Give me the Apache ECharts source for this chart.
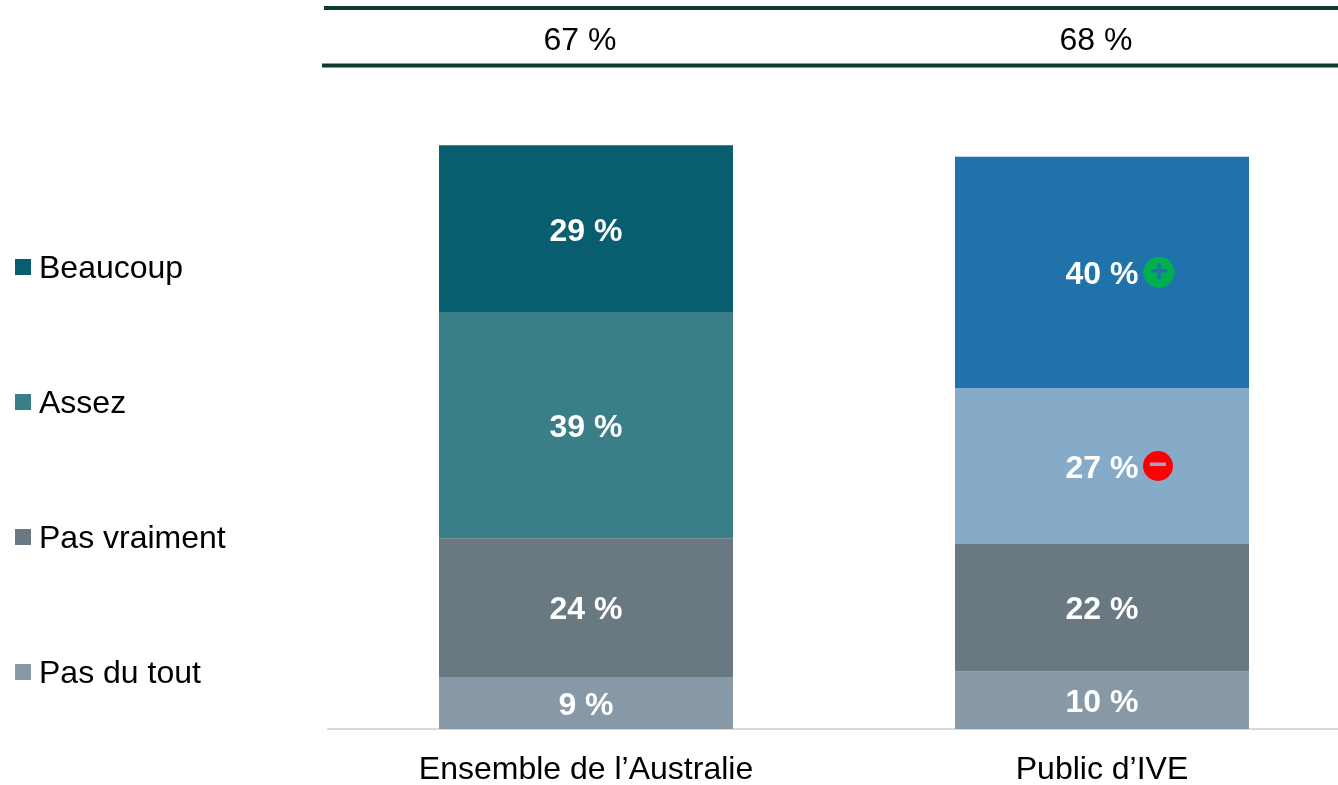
<!DOCTYPE html>
<html>
<head>
<meta charset="utf-8">
<script src="https://cdn.jsdelivr.net/npm/echarts@6/dist/echarts.min.js"></script>
<style>
  html, body { margin: 0; padding: 0; background: #fff; overflow: hidden; }
  #chart { width: 1338px; height: 785px; }
</style>
</head>
<body>
<div id="chart"></div>
<script>
const categories = ['Ensemble de l’Australie', 'Public d’IVE']
const totals = ['67 %', '68 %']
const legendNames = ['Beaucoup', 'Assez', 'Pas vraiment', 'Pas du tout']

const beaucoup = [29, 40]
const assez = [39, 27]
const pasVraiment = [24, 22]
const pasDuTout = [9, 10]

const FONT = '"Liberation Sans", Arial, sans-serif'
const RULE = '#0d3b2e'

const chart = echarts.init(document.getElementById('chart'))

const barSeries = (name, data, color, ivColor) => ({
  name,
  type: 'bar',
  stack: 'total',
  barWidth: 294,
  data: data.map((value, i) =>
    i === 1 && ivColor ? { value, itemStyle: { color: ivColor } } : value
  ),
  itemStyle: { color },
  label: {
    show: true,
    position: 'inside',
    offset: [0, 3],
    formatter: (p) => `${p.value} %`,
    color: '#fff',
    fontFamily: FONT,
    fontWeight: 'bold',
    fontSize: 32,
    textBorderWidth: 0,
  },
})

// middle of a segment in the second column, from the stacked values
const midOf = (below, own) => below.reduce((sum, arr) => sum + arr[1], 0) + own[1] / 2

const badge = (yValue, color, text, textColor, offsetX, size) => ({
  type: 'scatter',
  symbol: 'circle',
  symbolSize: size,
  symbolOffset: [offsetX, 0],
  silent: true,
  z: 5,
  itemStyle: { color, opacity: 1 },
  data: [[categories[1], yValue]],
  label: {
    show: true,
    position: 'inside',
    formatter: text,
    color: textColor,
    fontFamily: FONT,
    fontWeight: 'bold',
    fontSize: 32,
    textBorderWidth: 0,
  },
})

chart.setOption({
  animation: false,
  backgroundColor: '#fff',
  grid: { left: 328, top: 66, width: 1032, height: 663, outerBoundsMode: 'none' },
  legend: {
    orient: 'vertical',
    left: 10,
    top: 248,
    data: legendNames,
    icon: 'rect',
    itemWidth: 16,
    itemHeight: 16,
    itemGap: 103,
    formatter: '{n|{name}}',
    textStyle: {
      rich: {
        n: { fontFamily: FONT, fontSize: 32, color: '#000', padding: [4, 0, 0, 3] },
      },
    },
  },
  xAxis: [
    {
      type: 'category',
      data: categories,
      axisLine: { lineStyle: { color: '#d9d9d9', width: 2 } },
      axisTick: { show: false },
      axisLabel: { color: '#000', fontFamily: FONT, fontSize: 32, margin: 25 },
    },
    {
      type: 'category',
      position: 'top',
      data: totals,
      axisLine: { show: false },
      axisTick: { show: false },
      axisLabel: { color: '#000', fontFamily: FONT, fontSize: 32, margin: 9, padding: [0, 12, 0, 0] },
    },
  ],
  yAxis: { type: 'value', min: 0, max: 114.7, show: false },
  graphic: [
    { type: 'line', shape: { x1: 324, y1: 8, x2: 1338, y2: 8 }, style: { stroke: RULE, lineWidth: 4 } },
    { type: 'line', shape: { x1: 322, y1: 65.5, x2: 1338, y2: 65.5 }, style: { stroke: RULE, lineWidth: 4 } },
  ],
  series: [
    barSeries('Pas du tout', pasDuTout, '#8798a6'),
    barSeries('Pas vraiment', pasVraiment, '#6a7882'),
    barSeries('Assez', assez, '#3a7e87', '#86abc8'),
    barSeries('Beaucoup', beaucoup, '#085d6e', '#2073aa'),
    badge(midOf([pasDuTout, pasVraiment, assez], beaucoup), '#00b050', '+', '#2073aa', 57, 31),
    badge(midOf([pasDuTout, pasVraiment], assez), '#ff0000', '−', '#a3a3bd', 56, 30),
  ],
})

window.addEventListener('resize', () => chart.resize())
</script>
</body>
</html>
